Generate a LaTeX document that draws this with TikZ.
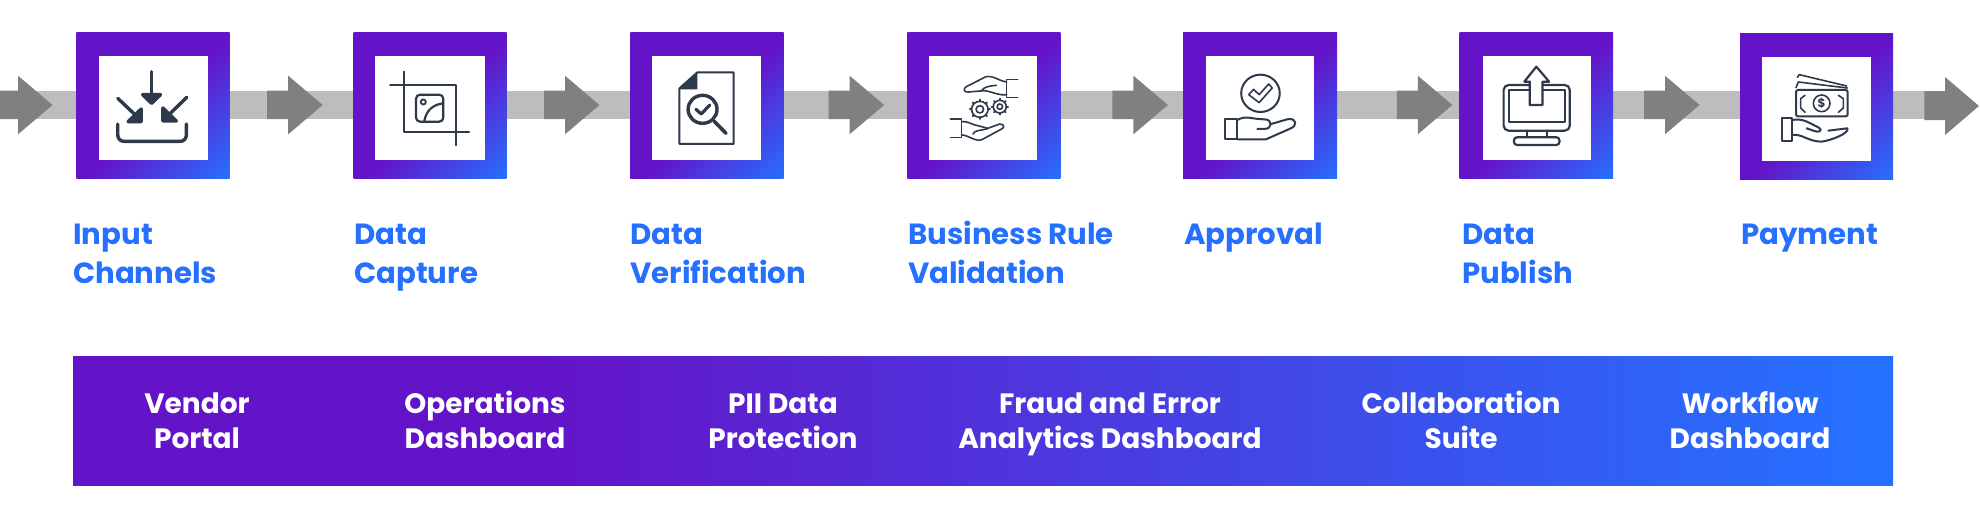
\documentclass[tikz,border=0pt]{standalone}
\usepackage{fontspec}
\setmainfont{Poppins}
\usepackage{tikz}
\usetikzlibrary{positioning,calc}
\definecolor{stepviolet}{HTML}{6414C8}
\definecolor{stepblue}{HTML}{2670FF}
\definecolor{trackgray}{HTML}{BDBDBD}
\definecolor{arrowgray}{HTML}{808080}
\definecolor{iconink}{HTML}{2E3A4A}
\pgfdeclarehorizontalshading{boxshade}{100bp}{color(0bp)=(stepviolet); color(52bp)=(stepviolet); color(85.4bp)=(stepblue); color(100bp)=(stepblue)}
\pgfdeclarehorizontalshading{bandshade}{100bp}{color(0bp)=(stepviolet); color(38bp)=(stepviolet); color(74bp)=(stepblue); color(100bp)=(stepblue)}
\tikzset{
    stepbox/.style={shading=boxshade,shading angle=-45,minimum width=#1,minimum height=146,inner sep=0},
    iconbox/.style={fill=white,minimum width=#1,minimum height=104,inner sep=0},
    steplabel/.style={text=stepblue,font=\fontsize{29.2}{39}\selectfont\bfseries,align=left,anchor=base west,inner sep=0},
    bandlabel/.style={text=white,font=\fontsize{28}{35}\selectfont\bfseries,align=center,anchor=base,inner sep=0},
    iconzoom/.style 2 args={shift={(#1,20)},x=#2,y=-0.3333,iconink,line width=1.6,line join=round,line cap=round},
    flowarrow/.style={fill=arrowgray}
}
\begin{document}
\begin{tikzpicture}[x=1pt,y=-1pt]
    \useasboundingbox (0,0) rectangle (1980,527);
    % Track
    \coordinate (trackstart) at (0,105);
    \coordinate (trackend) at (1928,105);
    \draw[trackgray,line width=28.4] (trackstart) -- (trackend);
    % Arrows
    \foreach \x in {-3,267.2,544,828.6,1112.4,1396.8,1644} {
        \fill[flowarrow] (\x,90.7) -- (\x+21,90.7) -- (\x+21,75.7) -- (\x+55.5,105) -- (\x+21,134.3) -- (\x+21,119) -- (\x,119) -- cycle;
    }
    \fill[flowarrow] (1924.3,91) -- (1945,91) -- (1945,77) -- (1979,106) -- (1945,135) -- (1945,120) -- (1924.3,120) -- cycle;
    % Step boxes
    \node[stepbox=153.3] (inputbox) at (153,105.3) {};
    \node[stepbox=152.8] (capturebox) at (430.1,105.3) {};
    \node[stepbox=153.3] (verifybox) at (706.9,105.3) {};
    \node[stepbox=152.9] (rulebox) at (983.9,105.3) {};
    \node[stepbox=154.2] (approvalbox) at (1260.1,105.3) {};
    \node[stepbox=153.5] (publishbox) at (1536.3,105.3) {};
    \node[stepbox=153] (paymentbox) at (1816.5,106.5) {};
    \node[iconbox=108.1] (inputicon) at (153.5,108) {};
    \node[iconbox=109.2] (captureicon) at (429.9,108) {};
    \node[iconbox=109.1] (verifyicon) at (706.9,108) {};
    \node[iconbox=108.2] (ruleicon) at (983.2,108) {};
    \node[iconbox=108.2] (approvalicon) at (1260.1,108) {};
    \node[iconbox=108.5] (publishicon) at (1537.2,108) {};
    \node[iconbox=109] (paymenticon) at (1816.5,109) {};
    % Input icon
    \begin{scope}[iconzoom={0}{0.3444}]
        \draw[line width=3.4] (440,155) -- (440,222);
        \draw[line width=3.4,fill=iconink] (414,224) -- (466,224) -- (440,250) -- cycle;
        \draw[line width=3.4] (342,235) -- (395,287);
        \draw[line width=3.4,fill=iconink] (410,267) -- (410,305) -- (372,305) -- cycle;
        \draw[line width=3.4] (542,232) -- (490,285);
        \draw[line width=3.4,fill=iconink] (473,264) -- (473,303) -- (512,303) -- cycle;
        \draw[line width=3.4,rounded corners=6] (342,312) -- (342,364) -- (541,364) -- (541,312);
    \end{scope}
    % Capture icon
    \begin{scope}[iconzoom={0}{0.3444}]
        \draw[line width=2.2] (1172,155) -- (1172,337) -- (1362,337);
        \draw[line width=2.2] (1133,194) -- (1323,194) -- (1323,375);
        \draw[line width=2.2,rounded corners=4] (1208,224) rectangle (1287,305);
        \draw[line width=1.8] (1229,246) circle (7.5);
        \draw[line width=2.2] (1232,303) .. controls (1238,270) and (1258,254) .. (1287,250);
    \end{scope}
    % Verification icon
    \begin{scope}[iconzoom={540}{0.3444}]
        \draw[line width=2] (405,205) -- (457,157) -- (562,157) -- (562,372) -- (405,372) -- cycle;
        \fill (405,208) -- (457,157) -- (457,208) -- cycle;
        \draw[line width=3.4,fill=white] (472,268) circle (42);
        \draw[line width=3.2] (453,268) -- (468,282) -- (493,255);
        \draw[line width=3.6] (506,304) -- (540,340);
    \end{scope}
    % Rule icon
    \begin{scope}[iconzoom={540}{0.3444}]
        \draw (1387,178) -- (1355,178) -- (1355,232) -- (1387,232);
        \draw (1355,186) .. controls (1330,182) and (1315,165) .. (1295,170) -- (1238,200) .. controls (1226,208) and (1232,218) .. (1245,216) -- (1290,212) .. controls (1310,214) and (1335,228) .. (1355,224);
        \draw (1282,212) .. controls (1290,200) and (1305,198) .. (1325,196);
        \draw (1192,297) -- (1224,297) -- (1224,352) -- (1192,352);
        \draw (1224,305) .. controls (1240,302) and (1255,315) .. (1275,318) -- (1300,325) -- (1335,312) .. controls (1350,312) and (1350,325) .. (1335,330) -- (1285,358) .. controls (1265,368) and (1245,345) .. (1224,345);
        \draw (1257,342) .. controls (1262,330) and (1280,332) .. (1300,326);
        \foreach \a in {0,45,...,315} {
            \draw[line width=2] ([shift={(\a:24)}]1277,268) -- ([shift={(\a:29)}]1277,268);
            \draw[line width=1.8] ([shift={(\a:19)}]1335,260) -- ([shift={(\a:24)}]1335,260);
        }
        \draw (1277,268) circle (24);
        \draw (1277,268) circle (11);
        \draw (1335,260) circle (19);
        \draw (1335,260) circle (8);
    \end{scope}
    % Approval icon
    \begin{scope}[iconzoom={1080}{0.3444}]
        \draw[line width=2] (524,220) circle (56);
        \draw (490,224) -- (504,208) -- (520,224) -- (548,192) -- (558,204) -- (520,248) -- cycle;
        \draw[line width=2] (422,297) rectangle (457,358);
        \draw[line width=2] (457,300) .. controls (480,285) and (500,298) .. (535,298) .. controls (560,298) and (560,327) .. (535,327) -- (515,327);
        \draw[line width=2] (555,312) -- (605,297) .. controls (630,295) and (632,318) .. (610,326) -- (540,358) -- (457,358);
    \end{scope}
    % Publish icon
    \begin{scope}[iconzoom={1080}{0.3444}]
        \draw[line width=2.2,rounded corners=5] (1230,195) rectangle (1422,332);
        \draw[line width=2.2] (1245,210) rectangle (1408,305);
        \draw[line width=2.2] (1298,332) -- (1298,352);
        \draw[line width=2.2] (1355,332) -- (1355,352);
        \draw[line width=2.2,rounded corners=3] (1260,352) rectangle (1392,375);
        \draw[line width=2.2,fill=white] (1306,255) -- (1306,185) -- (1290,185) -- (1325,140) -- (1362,185) -- (1343,185) -- (1343,255) -- cycle;
    \end{scope}
    % Payment icon
    \begin{scope}[iconzoom={1560}{0.3333}]
        \draw[line width=2,rounded corners=2] (708,210) rectangle (863,289);
        \draw (785,250) circle (25);
        \node[iconink,font=\fontsize{12}{12}\selectfont\bfseries,inner sep=0] (dollar) at (785,250) {\$};
        \draw (735,226) -- (722,236) -- (722,264) -- (735,277);
        \draw (835,226) -- (850,236) -- (850,264) -- (835,277);
        \draw (708,203) -- (715,186) -- (862,204);
        \draw (712,172) -- (718,164) -- (860,198);
        \draw[line width=2] (665,293) rectangle (695,363);
        \draw[line width=2] (695,300) .. controls (730,295) and (740,305) .. (775,322) .. controls (790,330) and (780,340) .. (760,332) -- (740,325);
        \draw[line width=2] (695,345) .. controls (725,340) and (745,365) .. (785,365) .. controls (810,362) and (870,340) .. (862,325) -- (805,332);
    \end{scope}
    % Step labels
    \node[steplabel] (inputlabel) at (73,283) {Input\\Channels};
    \node[steplabel] (capturelabel) at (354,283) {Data\\Capture};
    \node[steplabel] (verifylabel) at (630,283) {Data\\Verification};
    \node[steplabel] (rulelabel) at (908,283) {Business Rule\\Validation};
    \node[steplabel] (approvallabel) at (1184,244) {Approval};
    \node[steplabel] (publishlabel) at (1462,283) {Data\\Publish};
    \node[steplabel] (paymentlabel) at (1741,244) {Payment};
    % Bottom band
    \node[shading=bandshade,minimum width=1820,minimum height=129,inner sep=0] (band) at (983,420.5) {};
    \node[bandlabel] (vendorlabel) at (197,448) {Vendor\\Portal};
    \node[bandlabel] (opslabel) at (485,448) {Operations\\Dashboard};
    \node[bandlabel] (piilabel) at (783,448) {PII Data\\Protection};
    \node[bandlabel] (fraudlabel) at (1110,448) {Fraud and Error\\Analytics Dashboard};
    \node[bandlabel] (suitelabel) at (1461,448) {Collaboration\\Suite};
    \node[bandlabel] (flowlabel) at (1750,448) {Workflow\\Dashboard};
\end{tikzpicture}
\end{document}
